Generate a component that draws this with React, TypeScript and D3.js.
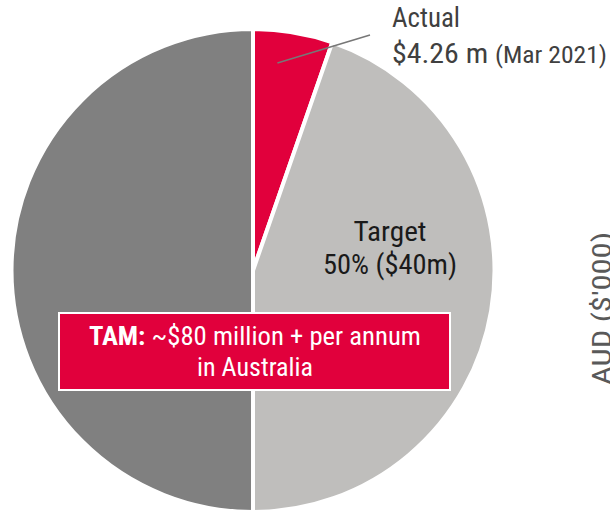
import React from "react";
import * as d3 from "d3";

const categories = ["Actual", "Target", "Remaining"];
const values = [4.26, 35.74, 40];
const colors = ["#E1003C", "#BFBEBC", "#808080"];

const W = 610;
const H = 515;
const cx = 253;
const cy = 270.5;
const R = 241.5;

export default function App() {
  const pie = d3.pie<number>().sort(null).startAngle(0).endAngle(2 * Math.PI);
  const arcs = pie(values);
  const arcGen = d3.arc<d3.PieArcDatum<number>>().innerRadius(0).outerRadius(R);

  const a0 = arcs[0];
  const ang = a0.startAngle + 0.35 * (a0.endAngle - a0.startAngle);
  const lr = 209;
  const lx1 = cx + lr * Math.sin(ang);
  const ly1 = cy - lr * Math.cos(ang);

  const font = "'Roboto Condensed', Roboto, 'Liberation Sans', sans-serif";

  return (
    <svg
      width={W}
      height={H}
      style={{ position: "absolute", left: 0, top: 0, display: "block" }}
    >
      <g transform={`translate(${cx},${cy})`}>
        {arcs.map((a, i) => (
          <path
            key={categories[i]}
            d={arcGen(a) || ""}
            fill={colors[i]}
            stroke="#ffffff"
            strokeWidth={4}
            strokeLinejoin="miter"
          />
        ))}
      </g>
      <line x1={lx1} y1={ly1} x2={370} y2={35} stroke="#777777" strokeWidth={1.5} />
      <text
        x={392}
        y={27}
        fontFamily={font}
        fontSize={28}
        fill="#404040"
        textLength={68}
        lengthAdjust="spacingAndGlyphs"
      >
        Actual
      </text>
      <text
        x={392}
        y={63}
        fontFamily={font}
        fontSize={28}
        fill="#404040"
        textLength={215}
        lengthAdjust="spacingAndGlyphs"
      >
        $4.26 m <tspan fontSize={24}>(Mar 2021)</tspan>
      </text>
      <text
        x={390}
        y={241}
        textAnchor="middle"
        fontFamily={font}
        fontSize={27}
        fill="#1a1a1a"
        textLength={73}
        lengthAdjust="spacingAndGlyphs"
      >
        Target
      </text>
      <text
        x={390}
        y={274}
        textAnchor="middle"
        fontFamily={font}
        fontSize={27}
        fill="#1a1a1a"
        textLength={134}
        lengthAdjust="spacingAndGlyphs"
      >
        50% ($40m)
      </text>
      <rect x={59} y={313} width={391} height={77} fill="#E1003C" stroke="#ffffff" strokeWidth={2} />
      <text
        x={255}
        y={345}
        textAnchor="middle"
        fontFamily={font}
        fontSize={26}
        fill="#ffffff"
        textLength={332}
        lengthAdjust="spacingAndGlyphs"
      >
        <tspan fontWeight="bold">TAM:</tspan> ~$80 million + per annum
      </text>
      <text
        x={255}
        y={376}
        textAnchor="middle"
        fontFamily={font}
        fontSize={26}
        fill="#ffffff"
        textLength={116}
        lengthAdjust="spacingAndGlyphs"
      >
        in Australia
      </text>
      <text
        transform="translate(610.5,308.5) rotate(-90)"
        textAnchor="middle"
        fontFamily={font}
        fontSize={26}
        fill="#595959"
        textLength={153}
        lengthAdjust="spacingAndGlyphs"
      >
        AUD ($'000)
      </text>
    </svg>
  );
}
